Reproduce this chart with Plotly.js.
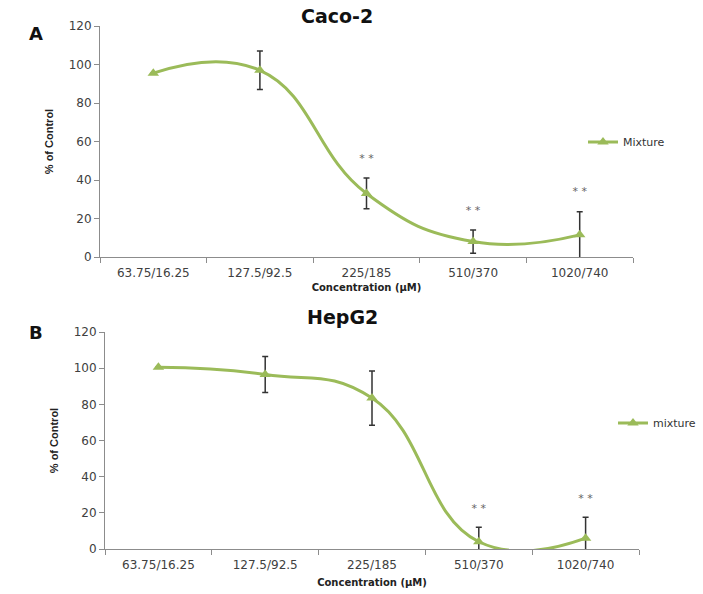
<!DOCTYPE html>
<html>
<head>
<meta charset="utf-8">
<script src="https://cdn.plot.ly/plotly-3.0.1.min.js"></script>
<style>html,body{margin:0;padding:0;background:#fff;}#chart{width:703px;height:594px;}</style>
</head>
<body>
<div id="chart"></div>
<script>
const categories = ['63.75/16.25', '127.5/92.5', '225/185', '510/370', '1020/740'];
const cacoMean = [95.5, 97, 33, 8, 11.5];
const cacoErr = [0, 10, 8, 6, 12];
const cacoSig = ['', '', '* *', '* *', '* *'];
const hepMean = [100.5, 96.5, 83.5, 4, 6];
const hepErr = [0, 10, 15, 8, 11.5];
const hepSig = ['', '', '', '* *', '* *'];

const green = '#9BBB59';
const axisGray = '#8C8C8C';
const tickFont = {family: 'DejaVu Sans', size: 12, color: '#404040'};

function seriesTrace(mean, err, name, xa, ya, legend) {
  return {
    x: categories, y: mean, name: name, type: 'scatter', mode: 'lines+markers',
    xaxis: xa, yaxis: ya, legend: legend,
    line: {color: green, width: 3, shape: 'spline', smoothing: 1.3},
    marker: {symbol: 'triangle-up', size: 10, color: green},
    error_y: {type: 'data', array: err, visible: true, color: '#333333', thickness: 1.5, width: 3},
    cliponaxis: true
  };
}
function sigTrace(mean, err, sig, xa, ya) {
  return {
    x: categories, y: mean.map((v, i) => v + err[i] + 10), text: sig,
    type: 'scatter', mode: 'text', xaxis: xa, yaxis: ya, showlegend: false,
    textposition: 'middle center', textfont: {family: 'DejaVu Sans', size: 11, color: '#666666'},
    hoverinfo: 'skip'
  };
}

const data = [
  seriesTrace(cacoMean, cacoErr, 'Mixture', 'x', 'y', 'legend'),
  sigTrace(cacoMean, cacoErr, cacoSig, 'x', 'y'),
  seriesTrace(hepMean, hepErr, 'mixture', 'x2', 'y2', 'legend2'),
  sigTrace(hepMean, hepErr, hepSig, 'x2', 'y2')
];

function xAxis(domain, anchor, standoff) {
  return {
    domain: domain, anchor: anchor, type: 'category', range: [-0.5, 4.5],
    tickson: 'boundaries', ticks: 'outside', ticklen: 5, tickcolor: axisGray,
    ticklabelstandoff: 5,
    showline: true, linecolor: axisGray, linewidth: 1, showgrid: false, zeroline: false,
    tickfont: tickFont, fixedrange: true,
    title: {text: 'Concentration (µM)', font: {family: 'DejaVu Sans', size: 10, color: '#222', weight: 'bold'}, standoff: standoff}
  };
}
function yAxis(domain, anchor) {
  return {
    domain: domain, anchor: anchor, range: [0, 120], dtick: 20,
    ticks: 'outside', ticklen: 5, tickcolor: axisGray,
    showline: true, linecolor: axisGray, linewidth: 1, showgrid: false, zeroline: false,
    tickfont: tickFont, fixedrange: true,
    title: {text: '% of Control', font: {family: 'Liberation Sans Narrow, Liberation Sans', size: 11, color: '#222', weight: 'bold'}, standoff: 12}
  };
}

const layout = {
  width: 703, height: 594,
  margin: {l: 0, r: 0, t: 0, b: 0},
  paper_bgcolor: '#ffffff', plot_bgcolor: '#ffffff',
  showlegend: true,
  xaxis: xAxis([100 / 703, 633 / 703], 'y', 4),
  yaxis: yAxis([1 - 257 / 594, 1 - 26 / 594], 'x'),
  xaxis2: xAxis([105 / 703, 639 / 703], 'y2', 7),
  yaxis2: yAxis([1 - 549 / 594, 1 - 332 / 594], 'x2'),
  legend: {x: 583 / 703, y: 1 - 142 / 594, xanchor: 'left', yanchor: 'middle', bgcolor: 'rgba(0,0,0,0)',
    font: {family: 'DejaVu Sans', size: 11, color: '#333'}},
  legend2: {x: 613 / 703, y: 1 - 423 / 594, xanchor: 'left', yanchor: 'middle', bgcolor: 'rgba(0,0,0,0)',
    font: {family: 'DejaVu Sans', size: 11, color: '#333'}},
  annotations: [
    {text: '<b>Caco-2</b>', xref: 'paper', yref: 'paper', x: 337 / 703, y: 1 - 16 / 594, showarrow: false,
      font: {family: 'DejaVu Sans', size: 19, color: '#111'}, xanchor: 'center', yanchor: 'middle'},
    {text: '<b>HepG2</b>', xref: 'paper', yref: 'paper', x: 342 / 703, y: 1 - 317 / 594, showarrow: false,
      font: {family: 'DejaVu Sans', size: 19, color: '#111'}, xanchor: 'center', yanchor: 'middle'},
    {text: '<b>A</b>', xref: 'paper', yref: 'paper', x: 36 / 703, y: 1 - 33 / 594, showarrow: false,
      font: {family: 'DejaVu Sans', size: 18, color: '#111'}, xanchor: 'center', yanchor: 'middle'},
    {text: '<b>B</b>', xref: 'paper', yref: 'paper', x: 36 / 703, y: 1 - 333 / 594, showarrow: false,
      font: {family: 'DejaVu Sans', size: 18, color: '#111'}, xanchor: 'center', yanchor: 'middle'}
  ]
};

Plotly.newPlot('chart', data, layout, {displayModeBar: false, staticPlot: true});
</script>
</body>
</html>
